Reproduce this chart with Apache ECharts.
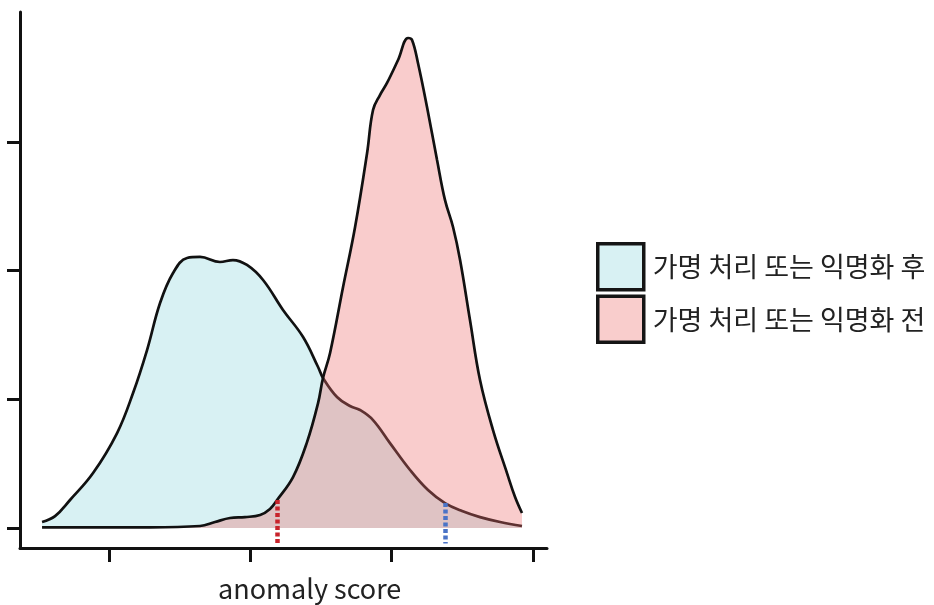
<!DOCTYPE html>
<html>
<head>
<meta charset="utf-8">
<script src="https://cdn.jsdelivr.net/npm/echarts@6/dist/echarts.min.js"></script>
<style>html,body{margin:0;padding:0;background:#fff;}#c{width:934px;height:605px;}</style>
</head>
<body>
<div id="c"></div>
<script>
// anomaly score (x) vs density (y)
const afterX = [0.526,0.618,0.724,0.887,1.057,1.170,1.269,1.361,1.453,1.552,1.644,1.785,1.877,1.976,2.090,2.231,2.373,2.479,2.514,2.613,2.705,2.776,2.868,2.988,3.130,3.257,3.377,3.498,3.625,3.767,3.922];
const afterY = [0.047,0.093,0.218,0.427,0.738,1.049,1.383,1.748,1.981,2.098,2.106,2.067,2.082,2.044,1.927,1.694,1.484,1.251,1.166,1.018,0.948,0.917,0.839,0.660,0.451,0.295,0.194,0.132,0.085,0.047,0.016];
const beforeX = [0.526,0.936,1.290,1.644,1.750,1.856,1.962,2.069,2.139,2.189,2.302,2.401,2.479,2.514,2.564,2.656,2.741,2.826,2.868,2.917,2.967,3.045,3.116,3.144,3.186,3.250,3.321,3.377,3.434,3.484,3.554,3.625,3.717,3.816,3.873,3.922];
const beforeY = [0.005,0.005,0.005,0.016,0.047,0.078,0.085,0.101,0.148,0.218,0.396,0.668,0.971,1.166,1.360,1.873,2.339,2.914,3.248,3.364,3.458,3.636,3.807,3.792,3.613,3.271,2.859,2.549,2.339,2.082,1.616,1.150,0.761,0.427,0.241,0.117];
const thresholdBefore = [2.189, 0.218];  // red dotted
const thresholdAfter = [3.377, 0.194];   // blue dotted
const xTicks = [1, 2, 3, 4];
const yTicks = [0, 1, 2, 3];
const seriesNames = ['가명 처리 또는 익명화 후', '가명 처리 또는 익명화 전'];
const axisTitle = 'anomaly score';

const zip = (xs, ys) => xs.map((x, i) => [x, ys[i]]);
const FONT = '"Noto Sans CJK KR", "Noto Sans", sans-serif';

const chart = echarts.init(document.getElementById('c'), null, {renderer: 'canvas'});
chart.setOption({
  animation: false,
  backgroundColor: '#ffffff',
  grid: {left: 20, top: 12, right: 387, bottom: 57, containLabel: false},
  xAxis: {
    type: 'value', min: 0.37, max: 4.099,
    axisLine: {show: true, onZero: false, lineStyle: {color: '#111', width: 3}},
    axisTick: {show: true, length: 14, customValues: xTicks, lineStyle: {color: '#111', width: 3}},
    axisLabel: {show: false},
    splitLine: {show: false}
  },
  yAxis: {
    type: 'value', min: -0.155, max: 4.009,
    axisLine: {show: true, onZero: false, lineStyle: {color: '#111', width: 3}},
    axisTick: {show: true, length: 13, customValues: yTicks, lineStyle: {color: '#111', width: 3}},
    axisLabel: {show: false},
    splitLine: {show: false}
  },
  legend: {
    orient: 'vertical', left: 591, top: 237,
    itemWidth: 46, itemHeight: 46, itemGap: 3,
    textStyle: {fontFamily: FONT, fontSize: 27, color: '#222', padding: [0, 0, 0, 4]},
    data: [
      {name: seriesNames[0], icon: 'rect', itemStyle: {color: '#d8f1f3', borderColor: '#151515', borderWidth: 3.5}},
      {name: seriesNames[1], icon: 'rect', itemStyle: {color: '#f9cdcc', borderColor: '#151515', borderWidth: 3.5}}
    ]
  },
  graphic: [{
    type: 'text', left: 218, top: 575,
    style: {text: axisTitle, fontFamily: FONT, fontSize: 27, fill: '#222'}
  }],
  series: [
    {
      name: seriesNames[0], type: 'line', data: zip(afterX, afterY),
      smooth: 0.4, showSymbol: false, symbol: 'none', z: 2,
      lineStyle: {color: '#111', width: 2.7},
      itemStyle: {color: '#d8f1f3'},
      areaStyle: {color: '#d8f1f3', opacity: 1, origin: 0}
    },
    {
      name: seriesNames[1], type: 'line', data: zip(beforeX, beforeY),
      smooth: 0.4, showSymbol: false, symbol: 'none', z: 3,
      lineStyle: {color: '#111', width: 2.7},
      itemStyle: {color: '#f9cdcc'},
      areaStyle: {color: 'rgb(238,109,109)', opacity: 0.35, origin: 0},
      markLine: {
        silent: true, symbol: 'none', z: 10, animation: false,
        label: {show: false},
        data: [
          [{coord: thresholdBefore, lineStyle: {color: '#c8232b', width: 4.5, type: [4, 2.5]}}, {coord: [thresholdBefore[0], -0.13]}],
          [{coord: thresholdAfter, lineStyle: {color: '#4a73c6', width: 4.5, type: [4, 2.5]}}, {coord: [thresholdAfter[0], -0.12]}]
        ]
      }
    }
  ]
});
</script>
</body>
</html>
